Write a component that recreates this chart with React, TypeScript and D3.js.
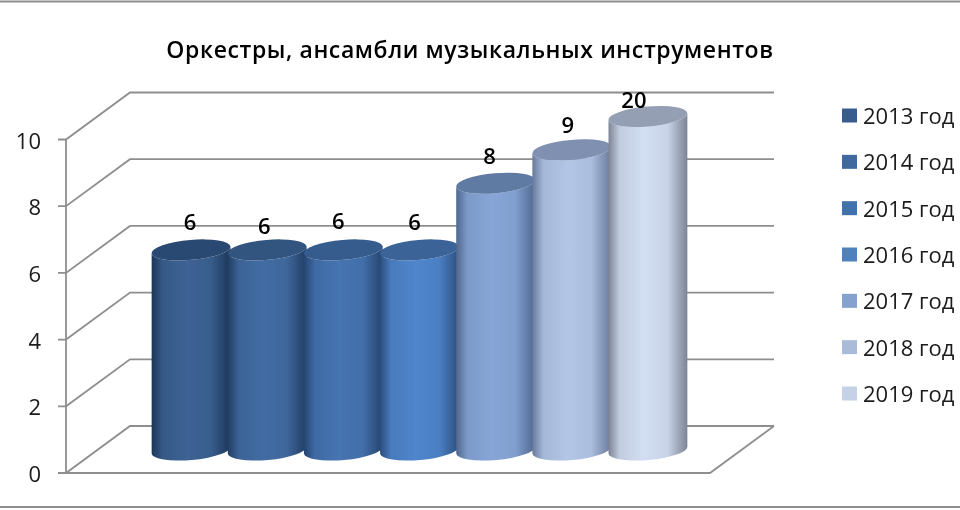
import React from 'react'
import * as d3 from 'd3'

const title = 'Оркестры, ансамбли музыкальных инструментов'
const years = ['2013 год', '2014 год', '2015 год', '2016 год', '2017 год', '2018 год', '2019 год']
const values = [6, 6, 6, 6, 8, 9, 20]
const yTicks = [0, 2, 4, 6, 8, 10]

// legend swatch, then the cylinder's side (edge, middle) and its lid
const swatchColors = ['#375c8e', '#3f6a9f', '#4372ad', '#4f81bd', '#85a1cd', '#a9bbd9', '#c5d1e6']
const edgeColors = ['#1d3658', '#213d63', '#25446f', '#2b4f7e', '#4f678e', '#68799b', '#7d8494']
const midColors = ['#3c6293', '#426ca3', '#4674b1', '#4f86cc', '#87a6d7', '#b3c6e6', '#d2def2']
const lidColors = ['#2b4a72', '#31557f', '#355c8c', '#3b6397', '#5e7aa3', '#7f90b0', '#949fb4']

const labelNudge: [number, number][] = [[-1, -28], [-3, -24], [-5, -29], [-5, -28], [-6, -27], [-4, -25], [-14, -17]]

const WIDTH = 960
const HEIGHT = 510
const FONT = '"Open Sans", "Noto Sans", sans-serif'
const AXIS = '#8e8e8e'

const plot = { left: 66, right: 710, bottom: 473, top: 139.5, dx: 64, dy: -47 }

const App: React.FC = () => {
  const y = d3.scaleLinear().domain([0, 10]).range([plot.bottom, plot.top]).clamp(true)
  const x = d3.scaleBand<string>().domain(years).range([153, 686]).padding(0)
  const legendY = d3.scalePoint<string>().domain(years).range([116, 394])

  const rx = x.bandwidth() / 2 + 1.5
  const ry = 10
  const tilt = (5 * Math.PI) / 180
  const ex = rx * Math.cos(tilt)
  const ey = rx * Math.sin(tilt)
  const base = y(0) - 23

  return (
    <svg
      width={WIDTH}
      height={HEIGHT}
      style={{ position: 'absolute', left: 0, top: 0, background: '#fff' }}
      fontFamily={FONT}
    >
      <defs>
        <filter id="soft" x="-5%" y="-5%" width="110%" height="110%">
          <feGaussianBlur stdDeviation="0.45" />
        </filter>
        {years.map((year, i) => (
          <linearGradient key={year} id={`cyl-${i}`} x1="0" x2="1" y1="0" y2="0">
            <stop offset="0" stopColor={edgeColors[i]} />
            <stop offset="0.14" stopColor={d3.interpolateRgb(edgeColors[i], midColors[i])(0.8)} />
            <stop offset="0.45" stopColor={midColors[i]} />
            <stop offset="0.75" stopColor={d3.interpolateRgb(edgeColors[i], midColors[i])(0.88)} />
            <stop offset="1" stopColor={edgeColors[i]} />
          </linearGradient>
        ))}
      </defs>

      <g filter="url(#soft)">
        <line x1={0} x2={WIDTH} y1={1.5} y2={1.5} stroke={AXIS} strokeWidth={2} />
        <line x1={0} x2={WIDTH} y1={507} y2={507} stroke={AXIS} strokeWidth={2} />

        {yTicks.map((t) => (
          <g key={t}>
            <path
              d={`M${plot.left - 8},${y(t)}H${plot.left}l${plot.dx},${plot.dy}H${plot.right + plot.dx}`}
              fill="none"
              stroke={AXIS}
              strokeWidth={1.8}
            />
            <text x={41} y={y(t) + 9} textAnchor="end" fontSize={22} fill="#1a1a1a">
              {t}
            </text>
          </g>
        ))}
        <line x1={plot.left} x2={plot.left} y1={y(10)} y2={y(0)} stroke={AXIS} strokeWidth={1.8} />
        <path
          d={`M${plot.left},${y(0)}H${plot.right}l${plot.dx},${plot.dy}`}
          fill="none"
          stroke={AXIS}
          strokeWidth={1.8}
        />

        {years.map((year, i) => {
          const cx = x(year)! + x.bandwidth() / 2
          const top = base - (y(0) - y(values[i]))
          const side =
            `M${cx - ex},${top + ey}` +
            `L${cx - ex},${base + ey}` +
            `A${rx},${ry} -5 0 0 ${cx + ex},${base - ey}` +
            `L${cx + ex},${top - ey}` +
            `A${rx},${ry} -5 0 1 ${cx - ex},${top + ey}Z`
          return (
            <g key={year}>
              <path d={side} fill={`url(#cyl-${i})`} />
              <ellipse
                cx={cx}
                cy={top}
                rx={rx}
                ry={ry}
                transform={`rotate(-5 ${cx} ${top})`}
                fill={lidColors[i]}
              />
            </g>
          )
        })}

        {years.map((year, i) => {
          const cx = x(year)! + x.bandwidth() / 2
          const top = base - (y(0) - y(values[i]))
          return (
            <text
              key={year}
              x={cx + labelNudge[i][0]}
              y={top + labelNudge[i][1] + 8}
              textAnchor="middle"
              fontSize={22}
              fontWeight={600}
              fill="#000"
            >
              {values[i]}
            </text>
          )
        })}

        <text x={470} y={58} textAnchor="middle" fontSize={23} fontWeight={600} letterSpacing={0.6} fill="#000">
          {title}
        </text>

        {years.map((year, i) => (
          <g key={year} transform={`translate(842,${legendY(year)})`}>
            <rect x={0} y={-7.5} width={15} height={14} fill={swatchColors[i]} />
            <text x={21} y={8} fontSize={22} fill="#1a1a1a">
              {year}
            </text>
          </g>
        ))}
      </g>
    </svg>
  )
}

export default App
